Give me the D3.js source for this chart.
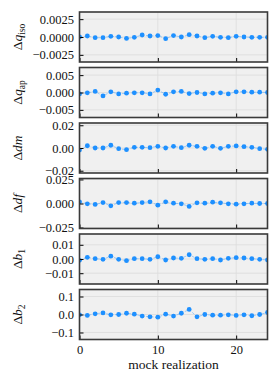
<!DOCTYPE html>
<html>
<head>
<meta charset="utf-8">
<script src="https://cdn.jsdelivr.net/npm/d3@7"></script>
<style>
  body { margin: 0; background: #fff; }
</style>
</head>
<body>
<div id="chart"></div>
<script>
// mock realization index
var mocks = d3.range(0, 25);

// offsets per parameter
var dqIso = [0, 0.00014, -0.0001, -0.0001, 0.0001, 0, -0.0002, -0.00005, 0.00028, 0.00014, 0.0002,
    -0.00023, 0.0002, 0, 0.00033, 0.00014, -0.0001, 0.0001, -0.00005, -0.0001, 0.0001, 0, -0.00005, -0.00005, -0.00005];
var dqAp = [-0.0004, -0.0001, 0.0003, -0.001, 0.0002, -0.0004, -0.0002, -0.0001, -0.0001, -0.0004, 0.0007,
    -0.0005, 0.0002, 0.0003, -0.0003, 0, -0.0004, -0.0002, -0.0001, -0.0004, 0.0002, 0.0002, 0.0001, 0.0001, 0];
var ddm = [-0.0018, 0.002, 0, 0, 0.0024, -0.0006, -0.0015, 0.0006, 0.0006, 0.0003, 0.0015,
    0, 0.0015, 0.0003, 0.0024, 0.0015, -0.0003, 0.0015, -0.0003, 0.0015, 0.0018, 0.0012, 0.0006, -0.0006, -0.0012];
var ddf = [0.0017, -0.0003, -0.001, 0.001, -0.0024, 0.001, 0.001, 0.0003, 0.001, 0.0017, -0.0017,
    0.0017, 0.0003, -0.0003, -0.003, 0.0007, 0.0003, 0.0014, 0.0007, -0.0003, -0.0007, -0.0003, 0.0003, 0, 0];
var db1 = [-0.0009, 0.0012, 0.0002, -0.0002, 0.002, -0.0002, -0.0012, 0.0002, 0.0002, -0.0002, 0.0016,
    -0.0007, 0.0007, 0.0005, 0.003, 0.0002, -0.0002, 0.0002, -0.0007, 0.0005, 0.0009, 0.0007, 0.0002, -0.0002, -0.0007];
var db2 = [-0.002, -0.005, 0.004, 0.009, -0.002, 0, 0.007, 0.002, -0.009, -0.013, -0.015,
    0.002, -0.009, 0.007, 0.028, -0.013, 0, -0.004, -0.004, -0.002, -0.005, -0.002, -0.007, 0, 0.011];

var xTicks = [0, 10, 20];

var panels = [
    {vals: dqIso, lim: 0.0035, ticks: [-0.0025, 0, 0.0025], fmt: ".4f", sym: "q", sub: "iso"},
    {vals: dqAp, lim: 0.0072, ticks: [-0.005, 0, 0.005], fmt: ".3f", sym: "q", sub: "ap"},
    {vals: ddm, lim: 0.022, ticks: [-0.02, 0, 0.02], fmt: ".2f", sym: "dm", sub: ""},
    {vals: ddf, lim: 0.026, ticks: [-0.025, 0, 0.025], fmt: ".3f", sym: "df", sub: ""},
    {vals: db1, lim: 0.0176, ticks: [-0.01, 0, 0.01], fmt: ".2f", sym: "b", sub: "1"},
    {vals: db2, lim: 0.139, ticks: [-0.1, 0, 0.1], fmt: ".1f", sym: "b", sub: "2"}
];

var W = 280, H = 384;
var left = 79.5, right = 267.5;
var top0 = 12, ph = 50, gap = 5.5;
var fs = 12.5;
var serif = '"Liberation Serif", "DejaVu Serif", "Times New Roman", serif';
var colors = {
    bg: '#f0f0f0',
    grid: '#dcdcdc',
    frame: '#3a3a3a',
    point: '#1e90ff'
};

var svg = d3.select('#chart').append('svg')
    .attr('width', W)
    .attr('height', H)
    .style('font-family', serif);

var x = d3.scaleLinear().domain([0, 24]).range([left, right]);

panels.forEach(function (p, k) {
    var y0 = top0 + k * (ph + gap);
    var y = d3.scaleLinear().domain([-p.lim, p.lim]).range([y0 + ph, y0]);
    var g = svg.append('g');

    // clip for the points
    var cid = 'clip' + k;
    svg.append('clipPath').attr('id', cid)
        .append('rect').attr('x', left).attr('y', y0).attr('width', right - left).attr('height', ph);

    g.append('rect')
        .attr('x', left).attr('y', y0)
        .attr('width', right - left).attr('height', ph)
        .attr('fill', colors.bg);

    // grid
    g.selectAll('.gx').data(xTicks).enter().append('line')
        .attr('x1', d => x(d)).attr('x2', d => x(d))
        .attr('y1', y0).attr('y2', y0 + ph)
        .attr('stroke', colors.grid).attr('stroke-width', 0.8);
    g.selectAll('.gy').data(p.ticks).enter().append('line')
        .attr('x1', left).attr('x2', right)
        .attr('y1', d => y(d)).attr('y2', d => y(d))
        .attr('stroke', colors.grid).attr('stroke-width', 0.8);

    var pts = g.append('g').attr('clip-path', 'url(#' + cid + ')');
    var line = d3.line()
        .x(function (d, i) { return x(mocks[i]); })
        .y(function (d) { return y(d); });
    pts.append('path')
        .attr('d', line(p.vals))
        .attr('fill', 'none')
        .attr('stroke', colors.point)
        .attr('stroke-opacity', 0.4)
        .attr('stroke-width', 1)
        .attr('stroke-dasharray', '3,1.5');
    pts.selectAll('circle').data(p.vals).enter().append('circle')
        .attr('cx', (d, i) => x(mocks[i]))
        .attr('cy', d => y(d))
        .attr('r', 2.4)
        .attr('fill', colors.point);

    // axes, ticks inward
    var ya = g.append('g').attr('transform', 'translate(' + left + ',0)')
        .call(d3.axisLeft(y).tickValues(p.ticks).tickSize(-4).tickPadding(5.5).tickFormat(d3.format(p.fmt)));
    ya.attr('font-family', null);
    ya.select('.domain').remove();
    ya.selectAll('line').attr('stroke', '#000').attr('stroke-width', 1);
    ya.selectAll('text').style('font-size', fs + 'px').style('font-family', serif).attr('fill', '#111');

    var xa = g.append('g').attr('transform', 'translate(0,' + (y0 + ph) + ')')
        .call(d3.axisBottom(x).tickValues(xTicks).tickSize(-4).tickPadding(5).tickFormat(k == panels.length - 1 ? d3.format('d') : ''));
    xa.attr('font-family', null);
    xa.select('.domain').remove();
    xa.selectAll('line').attr('stroke', '#000').attr('stroke-width', 1);
    xa.selectAll('text').style('font-size', fs + 'px').style('font-family', serif)
        .attr('fill', '#111').attr('dy', '0.75em');

    g.append('rect')
        .attr('x', left).attr('y', y0)
        .attr('width', right - left).attr('height', ph)
        .attr('fill', 'none')
        .attr('stroke', colors.frame).attr('stroke-width', 1.6);

    // y label
    var lab = g.append('text')
        .attr('transform', 'translate(22,' + (y0 + ph / 2) + ') rotate(-90)')
        .attr('text-anchor', 'middle')
        .attr('fill', '#111')
        .style('font-family', serif)
        .style('font-size', '13.5px');
    lab.append('tspan').text('Δ');
    lab.append('tspan').attr('font-style', 'italic').text(p.sym);
    if (p.sub) {
        lab.append('tspan').style('font-size', '9.5px').attr('dy', 3).text(p.sub);
    }
});

svg.append('text')
    .attr('x', (left + right) / 2)
    .attr('y', 369)
    .attr('text-anchor', 'middle')
    .attr('fill', '#111')
    .style('font-family', serif)
    .style('font-size', '13.5px')
    .text('mock realization');
</script>
</body>
</html>
